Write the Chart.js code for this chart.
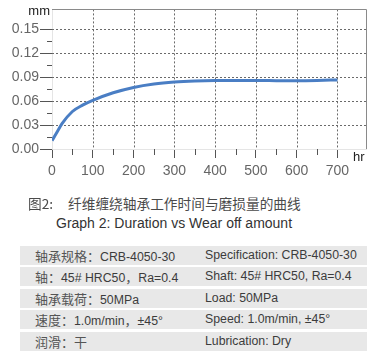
<!DOCTYPE html>
<html><head><meta charset="utf-8">
<script src="https://cdn.jsdelivr.net/npm/chart.js@4/dist/chart.umd.min.js"></script>
<style>
html,body{margin:0;padding:0;background:#fff;width:378px;height:358px;overflow:hidden;}
#wrap{position:absolute;left:0;top:0;width:378px;height:180px;}
.t{position:absolute;white-space:nowrap;font-family:"Liberation Sans",Arial,sans-serif;color:#333;}
.cjk{font-family:"Noto Sans CJK SC","Liberation Sans",sans-serif;}
.row{position:absolute;left:20px;width:347px;height:19px;background:#e8e8e8;}
.row span{position:absolute;top:0;line-height:19px;font-family:"Liberation Sans",Arial,sans-serif;font-size:12.3px;color:#3c3c3c;white-space:nowrap;}
.row span.zh{position:static;font-family:"Noto Sans CJK SC",sans-serif;font-size:13px;color:#555;}
</style></head>
<body>
<div id="wrap"><canvas id="c" width="378" height="180"></canvas></div>
<div class="t" style="right:328px;top:3px;font-size:13px;color:#222;">mm</div>
<div class="t" style="left:353px;top:149px;font-size:13px;color:#222;">hr</div>
<div class="t cjk" style="left:28px;top:194px;font-size:13.7px;line-height:18px;color:#4a4a4a;">图2:</div>
<div class="t cjk" style="left:68px;top:194px;font-size:13.7px;line-height:18px;color:#4a4a4a;">纤维缠绕轴承工作时间与磨损量的曲线</div>
<div class="t" style="left:56px;top:214px;font-size:14px;line-height:18px;color:#333;">Graph 2: Duration vs Wear off amount</div>
<div id="table"></div>
<script>
const hours = [0, 10, 25, 50, 75, 100, 150, 200, 250, 300, 350, 400, 450, 500, 550, 600, 650, 700];
const wear  = [0.0105, 0.019, 0.032, 0.047, 0.055, 0.061, 0.0705, 0.0772, 0.0815, 0.084, 0.0853, 0.0858, 0.0858, 0.0858, 0.0857, 0.0856, 0.0859, 0.0866];
const wearTickValues = [0, 0.03, 0.06, 0.09, 0.12, 0.15];
const hourTickValues = [0, 100, 200, 300, 400, 500, 600, 700];
const specZh = ["轴承规格：CRB-4050-30", "轴：45# HRC50，Ra=0.4", "轴承载荷：50MPa", "速度：1.0m/min，±45°", "润滑：干"];
const specEn = ["Specification: CRB-4050-30", "Shaft: 45# HRC50, Ra=0.4", "Load: 50MPa", "Speed: 1.0m/min, ±45°", "Lubrication: Dry"];

function tickPixels(scale){
  const out = [];
  for (let i = 0; i < scale.ticks.length; i++) out.push(scale.getPixelForTick(i));
  return out;
}

const gridPlugin = {
  id:'dotgrid',
  beforeDatasetsDraw(chart){
    const ctx = chart.ctx, xs = chart.scales.x, ys = chart.scales.y;
    const L = xs.left, R = xs.right, T = ys.top, B = ys.bottom;
    const yp = tickPixels(ys), xp = tickPixels(xs);
    ctx.save();
    ctx.strokeStyle = '#6a6a6a'; ctx.lineWidth = 1; ctx.setLineDash([2,2]);
    for (let i = 1; i < yp.length; i++){ const p = Math.round(yp[i]) + 0.5; ctx.beginPath(); ctx.moveTo(L,p); ctx.lineTo(R,p); ctx.stroke(); }
    for (let i = 1; i < xp.length; i++){ const p = Math.round(xp[i]) + 0.5; ctx.beginPath(); ctx.moveTo(p,T); ctx.lineTo(p,B); ctx.stroke(); }
    ctx.restore();
  },
  afterDraw(chart){
    const ctx = chart.ctx, xs = chart.scales.x, ys = chart.scales.y;
    const L = xs.left, R = xs.right, T = ys.top, B = ys.bottom;
    const yp = tickPixels(ys), xp = tickPixels(xs);
    ctx.save();
    ctx.setLineDash([]);
    ctx.strokeStyle = '#555'; ctx.lineWidth = 1;
    for (let i = 0; i + 1 < yp.length; i++){ const p = Math.round((yp[i] + yp[i+1]) / 2) + 0.5; ctx.beginPath(); ctx.moveTo(L-5,p); ctx.lineTo(L,p); ctx.stroke(); }
    for (let i = 0; i + 1 < xp.length; i++){ const p = Math.round((xp[i] + xp[i+1]) / 2) + 0.5; ctx.beginPath(); ctx.moveTo(p,B); ctx.lineTo(p,B+6); ctx.stroke(); }
    ctx.strokeStyle = '#8a8a8a';
    ctx.beginPath();
    ctx.moveTo(L, Math.round(T)+0.5); ctx.lineTo(Math.round(R)+0.5, Math.round(T)+0.5); ctx.lineTo(Math.round(R)+0.5, B);
    ctx.stroke();
    ctx.restore();
  }
};

new Chart(document.getElementById('c'), {
  type:'line',
  data:{datasets:[{data:hours.map((h,i)=>({x:h,y:wear[i]})), borderColor:'#4a7ec4', borderWidth:3, pointRadius:0, cubicInterpolationMode:'monotone', fill:false}]},
  options:{
    responsive:false, devicePixelRatio:1, animation:false,
    layout:{padding:{top:9,right:12,left:0,bottom:0}},
    plugins:{legend:{display:false}, tooltip:{enabled:false}},
    scales:{
      x:{type:'linear', min:0, max:770,
        afterFit(s){s.height=31;},
        afterBuildTicks(s){s.ticks = hourTickValues.map(v=>({value:v}));},
        ticks:{font:{size:14}, padding:5, maxRotation:0},
        grid:{drawOnChartArea:false, color:'#555', tickLength:9}
      },
      y:{min:0, max:0.175,
        afterFit(s){s.width=52;},
        afterBuildTicks(s){s.ticks = wearTickValues.map(v=>({value:v}));},
        ticks:{font:{size:14}, padding:1, callback:v=>Number(v).toFixed(2)},
        grid:{drawOnChartArea:false, color:'#555', tickLength:12}
      }
    }
  },
  plugins:[gridPlugin]
});

const tbl = document.getElementById('table');
const rowTops = [245.5, 267, 288.5, 310, 331.5];
function zhHtml(s){
  return s.replace(/([\u3000-\u9fff\uff00-\uffef]+)/g, '<span class="zh">$1</span>');
}
specZh.forEach((z,i)=>{
  const r = document.createElement('div');
  r.className='row'; r.style.top = rowTops[i]+'px';
  r.innerHTML = '<span style="left:15px">'+zhHtml(z)+'</span><span style="left:185px">'+specEn[i]+'</span>';
  tbl.appendChild(r);
});
</script>
</body></html>
